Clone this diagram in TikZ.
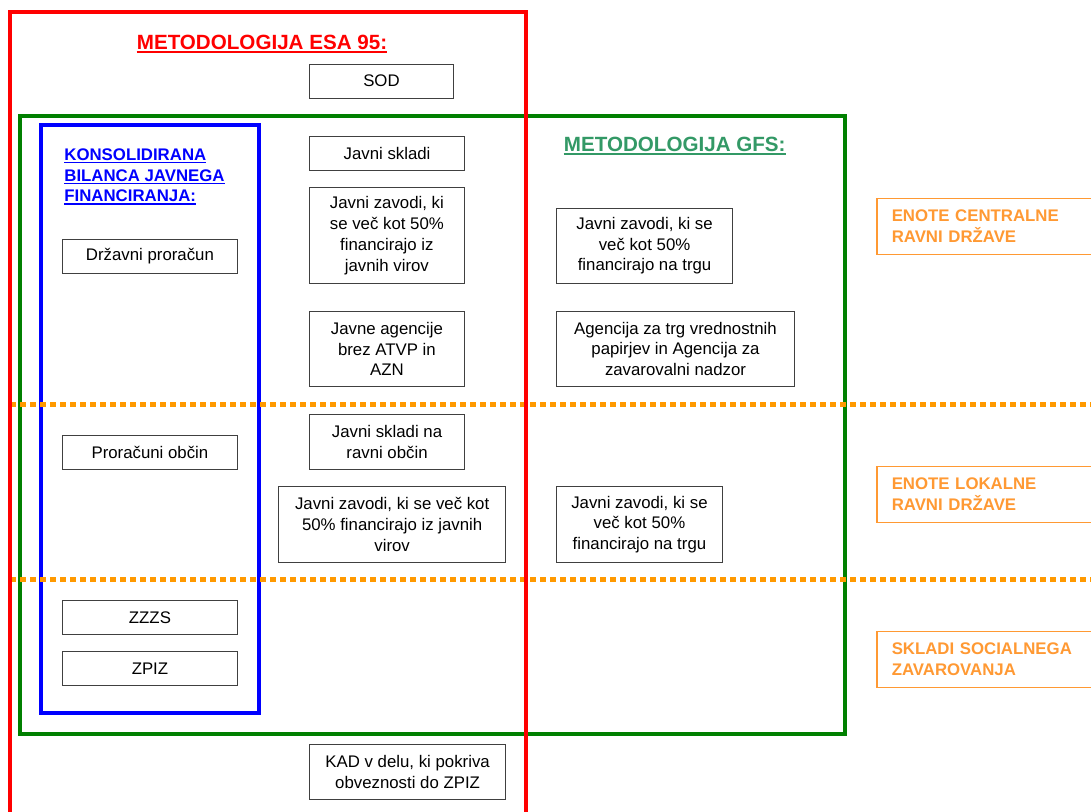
\documentclass[tikz,border=0pt]{standalone}
\usepackage{fontspec}
\setmainfont{Liberation Sans}
\usetikzlibrary{calc}
\definecolor{esared}{RGB}{255,0,0}
\definecolor{gfsgreen}{RGB}{51,153,102}
\definecolor{framegreen}{RGB}{0,128,0}
\definecolor{frameblue}{RGB}{0,0,255}
\definecolor{dotorange}{RGB}{255,153,0}
\definecolor{lblorange}{RGB}{255,153,51}
\definecolor{cellgray}{RGB}{64,64,64}
\tikzset{
  cell/.style={draw=cellgray, line width=1pt, align=center, inner sep=0pt,
    font=\fontsize{16.8}{20.8}\selectfont},
  titlefont/.style={inner sep=0pt, font=\fontsize{20.6}{24}\selectfont\bfseries},
  konsfont/.style={inner sep=0pt, anchor=base west, text=frameblue,
    font=\fontsize{16.8}{20.8}\selectfont\bfseries},
  lvlbox/.style={draw=lblorange, line width=1.5pt, anchor=north west,
    minimum width=260pt, minimum height=56pt, inner xsep=14.7pt,
    text width=230pt, align=left, text=lblorange,
    font=\fontsize{16.8}{20.8}\selectfont\bfseries},
  frame/.style={line width=4pt},
  levelline/.style={draw=dotorange, line width=5pt, dash pattern=on 6pt off 4pt}
}
\newcommand\cellbox[6]{\node[cell, minimum width={(#4-#2)*1pt}, minimum height={(#5-#3)*1pt}] (#1) at ({(#2+#4)/2},{(#3+#5)/2}) {#6};}
\begin{document}
\begin{tikzpicture}[x=1pt,y=-1pt]
\useasboundingbox (0,0) rectangle (1091,811);
\fill[white] (0,0) rectangle (1091,811);
\clip (0,0) rectangle (1091,811);

% frames
\draw[frame, framegreen] (20,115.5) rectangle (845.2,734);
\draw[frame, frameblue] (41,125.3) rectangle (258.5,713.3);
\coordinate (l1a) at (10,404);
\coordinate (l1b) at (1100,404);
\coordinate (l2a) at (10,579.7);
\coordinate (l2b) at (1100,579.7);
\draw[levelline] (l1a) -- (l1b);
\draw[levelline] (l2a) -- (l2b);
\draw[frame, esared] (9.8,830) -- (9.8,12.3) -- (526,12.3) -- (526,830);

% titles
\node[titlefont, text=esared, anchor=base] (esa) at (262,49.3) {METODOLOGIJA ESA 95:};
\draw[esared, line width=2pt] ($(esa.base west)+(0,2.6)$) -- ($(esa.base east)+(0,2.6)$);
\node[titlefont, text=gfsgreen, anchor=base west] (gfs) at (563.7,151.7) {METODOLOGIJA GFS:};
\draw[gfsgreen, line width=2pt] ($(gfs.base west)+(0,2.6)$) -- ($(gfs.base east)+(0,2.6)$);

\node[konsfont] (k1) at (64.2,160) {KONSOLIDIRANA};
\node[konsfont] (k2) at (64.2,181) {BILANCA JAVNEGA};
\node[konsfont] (k3) at (64.2,201.7) {FINANCIRANJA:};
\foreach \k in {k1,k2,k3}
  \draw[frameblue, line width=1.6pt] ($(\k.base west)+(0,2.4)$) -- ($(\k.base east)+(0,2.4)$);

% boxes
\cellbox{sod}{309.4}{64.3}{453.5}{98}{SOD}
\cellbox{js}{309.4}{136.3}{464.7}{170.3}{Javni skladi}
\cellbox{jz}{309.4}{187.7}{464.4}{283.7}{Javni zavodi, ki\\se več kot 50\%\\financirajo iz\\javnih virov}
\cellbox{ja}{309.4}{311.5}{464.4}{386.5}{Javne agencije\\brez ATVP in\\AZN}
\cellbox{jso}{309.4}{414.3}{464.7}{469.3}{Javni skladi na\\ravni občin}
\cellbox{jzl}{278.5}{486.7}{505.8}{562}{Javni zavodi, ki se več kot\\50\% financirajo iz javnih\\virov}
\cellbox{kad}{309.4}{744.7}{505.8}{799}{KAD v delu, ki pokriva\\obveznosti do ZPIZ}
\cellbox{dp}{62.1}{239.3}{237.8}{273.3}{Državni proračun}
\cellbox{po}{62.1}{435.3}{237.8}{469.3}{Proračuni občin}
\cellbox{zzzs}{62.1}{600.3}{237.8}{634.3}{ZZZS}
\cellbox{zpiz}{62.1}{651.7}{237.8}{685.7}{ZPIZ}
\cellbox{gjz}{556.8}{208.3}{732.3}{283.3}{Javni zavodi, ki se\\več kot 50\%\\financirajo na trgu}
\cellbox{gag}{556.8}{311.3}{794.2}{386.3}{Agencija za trg vrednostnih\\papirjev in Agencija za\\zavarovalni nadzor}
\cellbox{gjzl}{556.8}{486.7}{722.1}{562.3}{Javni zavodi, ki se\\več kot 50\%\\financirajo na trgu}

% level labels
\node[lvlbox] (lc) at (876,197.7) {ENOTE CENTRALNE\\RAVNI DRŽAVE};
\node[lvlbox] (ll) at (876,465.7) {ENOTE LOKALNE\\RAVNI DRŽAVE};
\node[lvlbox] (ls) at (876,630.7) {SKLADI SOCIALNEGA\\ZAVAROVANJA};
\end{tikzpicture}
\end{document}
